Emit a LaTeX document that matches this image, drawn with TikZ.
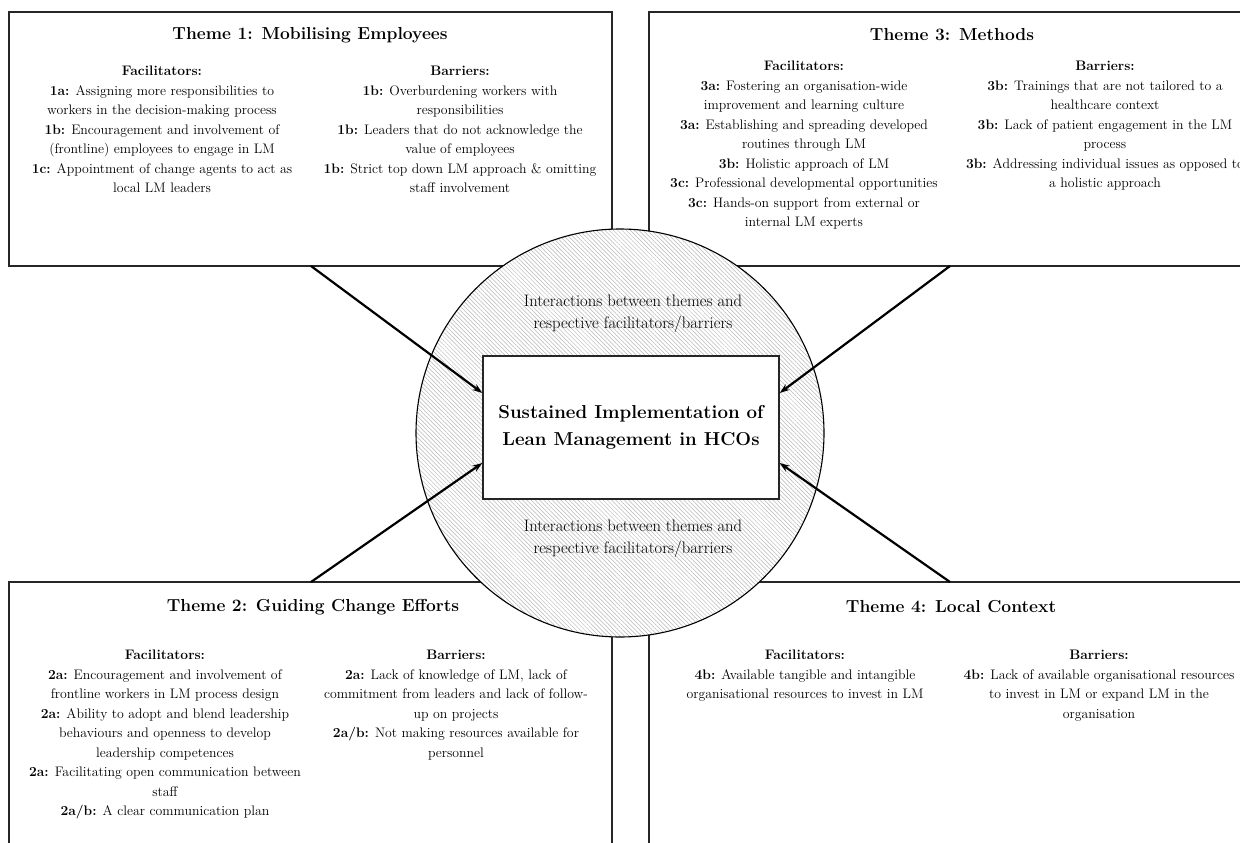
\documentclass[tikz,border=0pt]{standalone}
\usetikzlibrary{patterns.meta,arrows.meta,calc}
\begin{document}
\begin{tikzpicture}[x=1pt,y=-1pt,
  theme/.style={draw=black!85,line width=1.3pt,inner sep=0,minimum width=603pt},
  ttl/.style={font=\fontsize{17.4}{21}\selectfont\bfseries,anchor=center,inner sep=0},
  col/.style={font=\fontsize{13.8}{19.5}\selectfont,align=center,anchor=north,inner sep=0},
  inter/.style={font=\fontsize{16.6}{22.6}\selectfont,align=center,inner sep=0},
  arr/.style={line width=2.2pt,-{Stealth[length=10pt,width=7pt]}},
  hatch/.style={draw=black,line width=1.1pt,preaction={fill=white},
    pattern={Lines[angle=-45,distance=3pt,line width=0.5pt]},pattern color=black!28},
]
\clip (0,0) rectangle (1240,843);
% theme boxes
\node[theme,minimum height=254pt] (t1) at (310.5,139) {};
\node[theme,minimum height=254pt] (t3) at (950.5,139) {};
\node[theme,minimum height=270pt] (t2) at (310.5,717) {};
\node[theme,minimum height=270pt] (t4) at (950.5,717) {};
% circle
\node[hatch,circle,minimum size=408pt,inner sep=0] (circ) at (620,433) {};
% central box
\node[draw=black!85,line width=1.3pt,fill=white,minimum width=296pt,minimum height=143pt,
  font=\fontsize{18.7}{27}\selectfont\bfseries,align=center,inner sep=0] (c) at (631,427.5)
  {Sustained Implementation of\\Lean Management in HCOs};
% interaction texts
\node[inter] (i1) at (633,314) {Interactions between themes and\\respective facilitators/barriers};
\node[inter] (i2) at (633,539) {Interactions between themes and\\respective facilitators/barriers};
% arrows
\coordinate (s1) at (311,266);
\coordinate (s3) at (950,266);
\coordinate (s2) at (311,582);
\coordinate (s4) at (950,582);
\draw[arr] (s1) -- ($(c.west)+(0,-34.5)$);
\draw[arr] (s3) -- ($(c.east)+(0,-34.5)$);
\draw[arr] (s2) -- ($(c.west)+(0,35.5)$);
\draw[arr] (s4) -- ($(c.east)+(0,35.5)$);
% Theme 1
\node[ttl] (h1) at (310,35) {Theme 1: Mobilising Employees};
\node[col] (f1) at (162,66) {\textbf{Facilitators:}\\
\textbf{1a:} Assigning more responsibilities to\\
workers in the decision-making process\\
\textbf{1b:} Encouragement and involvement of\\
(frontline) employees to engage in LM\\
\textbf{1c:} Appointment of change agents to act as\\
local LM leaders};
\node[col] (b1) at (460,66) {\textbf{Barriers:}\\
\textbf{1b:} Overburdening workers with\\
responsibilities\\
\textbf{1b:} Leaders that do not acknowledge the\\
value of employees\\
\textbf{1b:} Strict top down LM approach \& omitting\\
staff involvement};
% Theme 3
\node[ttl] (h3) at (952,35) {Theme 3: Methods};
\node[col] (f3) at (804,61) {\textbf{Facilitators:}\\
\textbf{3a:} Fostering an organisation-wide\\
improvement and learning culture\\
\textbf{3a:} Establishing and spreading developed\\
routines through LM\\
\textbf{3b:} Holistic approach of LM\\
\textbf{3c:} Professional developmental opportunities\\
\textbf{3c:} Hands-on support from external or\\
internal LM experts};
\node[col] (b3) at (1105,61) {\textbf{Barriers:}\\
\textbf{3b:} Trainings that are not tailored to a\\
healthcare context\\
\textbf{3b:} Lack of patient engagement in the LM\\
process\\
\textbf{3b:} Addressing individual issues as opposed to\\
a holistic approach};
% Theme 2
\node[ttl] (h2) at (313,607) {Theme 2: Guiding Change Efforts};
\node[col] (f2) at (165,650) {\textbf{Facilitators:}\\
\textbf{2a:} Encouragement and involvement of\\
frontline workers in LM process design\\
\textbf{2a:} Ability to adopt and blend leadership\\
behaviours and openness to develop\\
leadership competences\\
\textbf{2a:} Facilitating open communication between\\
staff\\
\textbf{2a/b:} A clear communication plan};
\node[col] (b2) at (456,650) {\textbf{Barriers:}\\
\textbf{2a:} Lack of knowledge of LM, lack of\\
commitment from leaders and lack of follow-\\
up on projects\\
\textbf{2a/b:} Not making resources available for\\
personnel};
% Theme 4
\node[ttl] (h4) at (951,607) {Theme 4: Local Context};
\node[col] (f4) at (805,650) {\textbf{Facilitators:}\\
\textbf{4b:} Available tangible and intangible\\
organisational resources to invest in LM};
\node[col] (b4) at (1099,650) {\textbf{Barriers:}\\
\textbf{4b:} Lack of available organisational resources\\
to invest in LM or expand LM in the\\
organisation};
\end{tikzpicture}
\end{document}
